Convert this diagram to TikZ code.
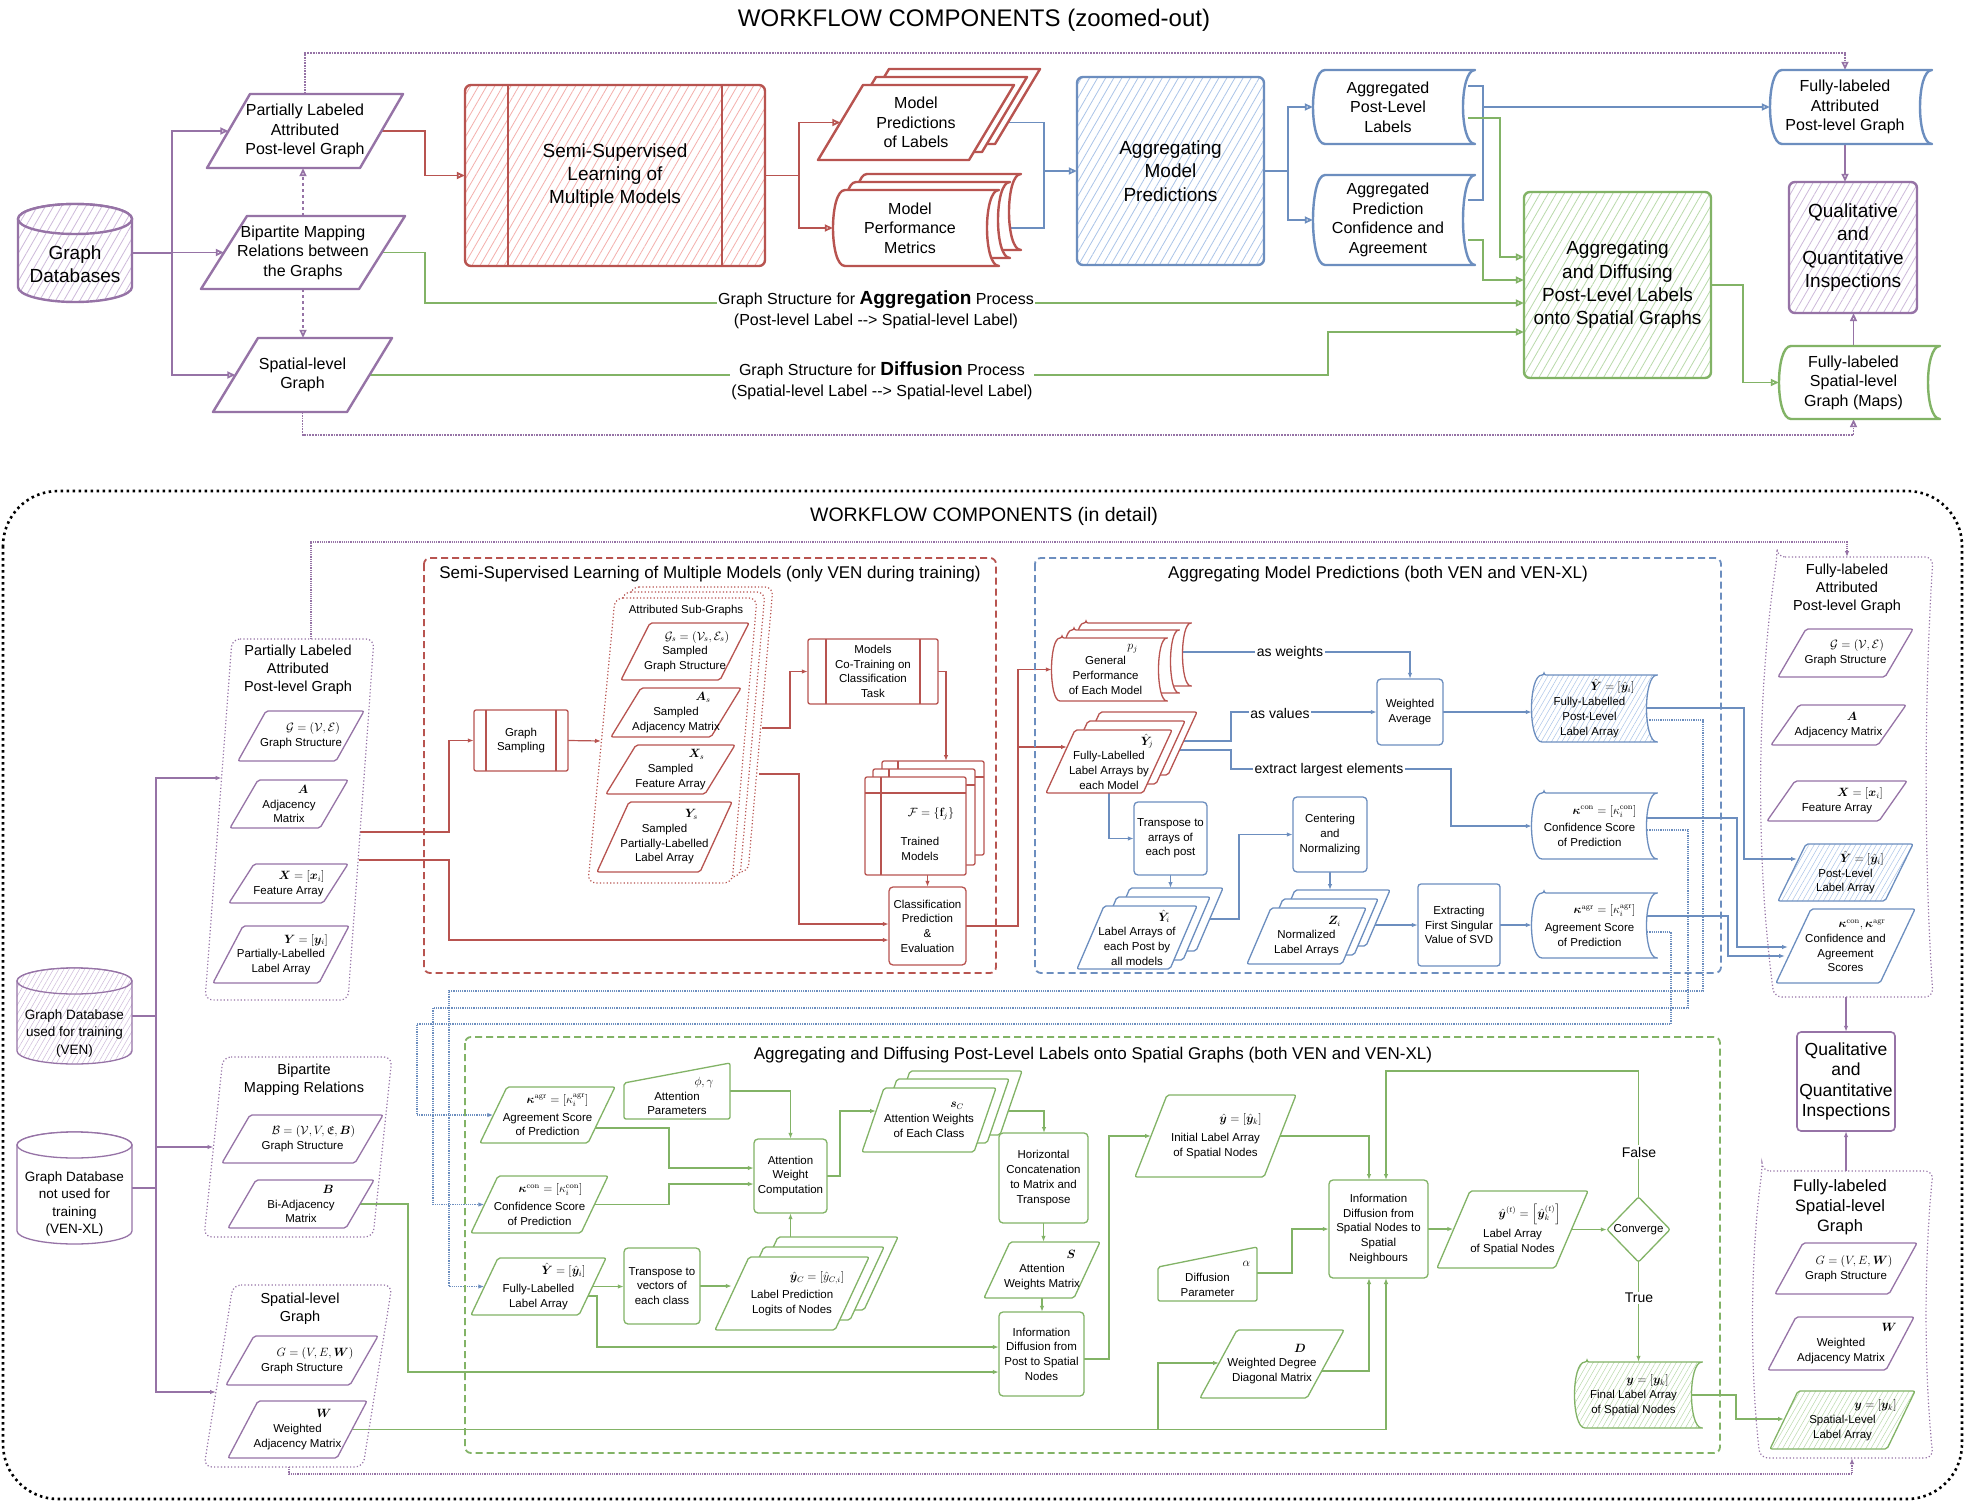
\documentclass[tikz,border=0pt]{standalone}
\usepackage[no-math]{fontspec}
\setmainfont{Liberation Sans}
\usepackage{amsmath,amssymb,bm}
\usetikzlibrary{arrows.meta,patterns.meta,calc}
\definecolor{cP}{RGB}{150,115,166}
\definecolor{cR}{RGB}{184,84,80}
\definecolor{cB}{RGB}{108,142,191}
\definecolor{cG}{RGB}{130,179,102}
\definecolor{hPc}{RGB}{205,185,218}
\definecolor{hRc}{RGB}{244,175,172}
\definecolor{hBc}{RGB}{170,196,232}
\definecolor{hGc}{RGB}{185,218,170}
\pgfdeclarelayer{back}\pgfdeclarelayer{bg}\pgfsetlayers{back,bg,main}
\newcommand\fD{\fontsize{11.5}{14.7}\selectfont}
\newcommand\fT{\fontsize{16}{19.5}\selectfont}
\newcommand\fTL{\fontsize{19}{23.3}\selectfont}
\newcommand\fG{\fontsize{17}{20}\selectfont}
\newcommand\fC{\fontsize{14.5}{17.8}\selectfont}
\tikzset{
 txt/.style={inner sep=0pt,align=center,font=\fD},
 arr/.style={-{Latex[length=6pt,width=4.5pt]}},
 tarr/.style={-{Triangle[open,length=8pt,width=7pt]}},
 tP/.style={draw=cP,line width=2.4pt,line join=round,fill=white},
 tR/.style={draw=cR,line width=2.4pt,line join=round,fill=white},
 tB/.style={draw=cB,line width=2.4pt,line join=round,fill=white},
 tG/.style={draw=cG,line width=2.4pt,line join=round,fill=white},
 hatP/.style={preaction={fill=white},pattern={Lines[angle=60,distance=7pt,line width=0.8pt]},pattern color=hPc},
 hatR/.style={preaction={fill=white},pattern={Lines[angle=60,distance=7pt,line width=0.8pt]},pattern color=hRc},
 hatB/.style={preaction={fill=white},pattern={Lines[angle=60,distance=7pt,line width=0.8pt]},pattern color=hBc},
 hatG/.style={preaction={fill=white},pattern={Lines[angle=60,distance=7pt,line width=0.8pt]},pattern color=hGc},
 hatPs/.style={preaction={fill=white},pattern={Lines[angle=60,distance=4.5pt,line width=0.5pt]},pattern color=hPc},
 hatBs/.style={preaction={fill=white},pattern={Lines[angle=60,distance=4.5pt,line width=0.5pt]},pattern color=hBc},
 hatGs/.style={preaction={fill=white},pattern={Lines[angle=60,distance=4.5pt,line width=0.5pt]},pattern color=hGc},
 dP/.style={draw=cP,line width=1.3pt,rounded corners=2pt,fill=white},
 dR/.style={draw=cR,line width=1.3pt,rounded corners=2pt,fill=white},
 dB/.style={draw=cB,line width=1.3pt,rounded corners=2pt,fill=white},
 dG/.style={draw=cG,line width=1.3pt,rounded corners=2pt,fill=white},
 grp/.style={line width=1.2pt,dash pattern=on 1.2pt off 2.2pt,rounded corners=8pt},
 bigbox/.style={line width=1.8pt,dash pattern=on 7pt off 4pt,rounded corners=6pt},
 cl/.style={line width=1.2pt},
 ctop/.style={line width=1.7pt},
 lbl/.style={fill=white,inner sep=1.5pt,font=\fontsize{14}{16}\selectfont},
}
% parallelogram with node
\newcommand\mkpara[9][]{%
 \draw[#2] (#4,#7) -- ({#4+#8},#5) -- (#6,#5) -- ({#6-#8},#7) -- cycle;
 \node[txt,minimum width={#6-#4-#8},minimum height={#7-#5},#1] (#3) at ({(#4+#6)/2},{(#5+#7)/2}) {#9};}
\newcommand\shpara[6]{\draw[#1] (#2,#5) -- ({#2+#6},#3) -- (#4,#3) -- ({#4-#6},#5) -- cycle;}
\newcommand\shsd[6]{\draw[#1] ({#2+#6},#3) -- (#4,#3) .. controls ({#4-4*#6/3},#3) and ({#4-4*#6/3},#5) .. (#4,#5) -- ({#2+#6},#5) .. controls ({#2-#6/3},#5) and ({#2-#6/3},#3) .. ({#2+#6},#3) -- cycle;}
\newcommand\mksd[9][]{\shsd{#2}{#4}{#5}{#6}{#7}{#8}%
 \node[txt,minimum width={#6-#4-#8},minimum height={#7-#5},#1] (#3) at ({(#4+#6-#8)/2},{(#5+#7)/2}) {#9};}
\newcommand\mkrect[8][]{\draw[#2] (#4,#5) rectangle (#6,#7);
 \node[txt,minimum width={#6-#4},minimum height={#7-#5},#1] (#3) at ({(#4+#6)/2},{(#5+#7)/2}) {#8};}
\newcommand\mkproc[9][]{\draw[#2] (#4,#5) rectangle (#6,#7);
 \draw[#2] ({#4+#8},#5) -- ({#4+#8},#7) ({#6-#8},#5) -- ({#6-#8},#7);
 \node[txt,minimum width={#6-#4},minimum height={#7-#5},#1] (#3) at ({(#4+#6)/2},{(#5+#7)/2}) {#9};}
\newcommand\mkmi[9][]{\draw[#2] (#4,#5) -- (#7,#6) -- (#7,#8) -- (#4,#8) -- cycle;
 \node[txt,minimum width={#7-#4},minimum height={#8-(#5+#6)/2},#1] (#3) at ({(#4+#7)/2},{((#5+#6)/2+#8)/2}) {#9};}
\newcommand\shstore[7]{\draw[#1] (#2,#3) rectangle (#4,#5); \draw[#1] ({#2+#6},#3) -- ({#2+#6},#5) (#2,{#3+#7}) -- (#4,{#3+#7});}
\newcommand\mkcyl[7]{%
 \path[#1] (#3,{#4+#7}) -- (#3,{#6-#7}) arc[start angle=180,end angle=0,x radius={(#5-#3)/2},y radius=#7] -- (#5,{#4+#7}) arc[start angle=0,end angle=-180,x radius={(#5-#3)/2},y radius=#7] -- cycle;
 \path[#1] ({(#3+#5)/2},{#4+#7}) ellipse[x radius={(#5-#3)/2},y radius=#7];
 \node[inner sep=0pt,minimum width={#5-#3},minimum height={#6-#4}] (#2) at ({(#3+#5)/2},{(#4+#6)/2}) {};}
\begin{document}
\begin{tikzpicture}[x=1pt,y=-1pt]
\useasboundingbox (0,0) rectangle (1965,1503);
\begin{pgfonlayer}{back}
\fill[white] (0,0) rectangle (1965,1503);
\end{pgfonlayer}
%================ TOP =================
\node[font=\fontsize{24}{28}\selectfont] (title1) at (974,20) {WORKFLOW COMPONENTS (zoomed-out)};
\mkcyl{draw=cP,line width=2.4pt,hatP}{gdb}{18}{204}{132}{302}{15}
\node[txt,font=\fTL] (gdbt) at (75,264) {Graph\\Databases};
\mkpara[font=\fT]{tP}{plap}{207}{94}{403}{168}{43}{Partially Labeled\\Attributed\\Post-level Graph}
\mkpara[font=\fT]{tP}{bip}{201}{216}{405}{289}{46}{Bipartite Mapping\\Relations between\\the Graphs}
\mkpara[font=\fT]{tP}{spat}{213}{338}{392}{412}{45}{Spatial-level\\Graph}
\mkproc[font=\fTL]{tR,hatR,rounded corners=6pt}{ssl}{465}{85}{765}{266}{43}{Semi-Supervised\\Learning of\\Multiple Models}
\shpara{tR}{844}{69}{1040}{144}{45}
\shpara{tR}{831}{77}{1027}{152}{45}
\mkpara[font=\fT]{tR}{mp}{818}{85}{1014}{160}{45}{Model\\Predictions\\of Labels}
\shsd{tR}{855}{174}{1021}{250}{12}
\shsd{tR}{844}{182}{1010}{258}{12}
\mksd[font=\fT]{tR}{mpm}{833}{190}{999}{266}{12}{Model\\Performance\\Metrics}
\mkrect[font=\fTL]{tB,hatB,rounded corners=6pt}{amp}{1077}{77}{1264}{265}{Aggregating\\Model\\Predictions}
\mksd[font=\fT]{tB}{apl}{1313}{70}{1475}{144}{12}{Aggregated\\Post-Level\\Labels}
\mksd[font=\fT]{tB}{apc}{1313}{175}{1475}{265}{12}{Aggregated\\Prediction\\Confidence and\\Agreement}
\mkrect[font=\fTL]{tG,hatG,rounded corners=6pt}{adp}{1524}{192}{1711}{378}{Aggregating\\and Diffusing\\Post-Level Labels\\onto Spatial Graphs}
\mksd[font=\fT]{tB}{flap}{1770}{70}{1932}{144}{12}{Fully-labeled\\Attributed\\Post-level Graph}
\mkrect[font=\fTL]{tP,hatP,rounded corners=6pt}{qqi}{1789}{182}{1917}{313}{Qualitative\\and\\Quantitative\\Inspections}
\mksd[font=\fT]{tG}{flsg}{1779}{346}{1940}{419}{12}{Fully-labeled\\Spatial-level\\Graph (Maps)}
\node[fill=white,inner sep=1.5pt,align=center,font=\fontsize{16}{21}\selectfont] (lagg) at (876,310) {Graph Structure for {\bfseries\fontsize{19}{21}\selectfont Aggregation} Process\\(Post-level Label -\kern0pt-\kern0pt> Spatial-level Label)};
\node[fill=white,inner sep=1.5pt,align=center,font=\fontsize{16}{21}\selectfont] (ldif) at (882,381) {Graph Structure for {\bfseries\fontsize{19}{21}\selectfont Diffusion} Process\\(Spatial-level Label -\kern0pt-\kern0pt> Spatial-level Label)};
%================ BOTTOM =================
\draw[black,line width=2.6pt,dash pattern=on 2.5pt off 3.5pt,rounded corners=55pt] (3,491) rectangle (1962,1499);
\node[font=\fontsize{19.5}{22}\selectfont] (title2) at (984,516) {WORKFLOW COMPONENTS (in detail)};
\draw[cR,bigbox] (424,558) rectangle (996,973);
\node[font=\fG] (tred) at (710,574) {Semi-Supervised Learning of Multiple Models (only VEN during training)};
\draw[cB,bigbox] (1035,558) rectangle (1721,973);
\node[font=\fG] (tblue) at (1378,574) {Aggregating Model Predictions (both VEN and VEN-XL)};
\draw[cG,bigbox] (465,1037) rectangle (1720,1453);
\node[font=\fG] (tgreen) at (1093,1055) {Aggregating and Diffusing Post-Level Labels onto Spatial Graphs (both VEN and VEN-XL)};
% left column
\mkcyl{draw=cP,line width=1.3pt,hatPs}{cv}{17}{968}{132}{1064}{13}
\node[txt,font=\fontsize{13.5}{17.5}\selectfont] (cvt) at (74.5,1033) {Graph Database\\used for training\\(VEN)};
\mkcyl{draw=cP,line width=1.3pt,fill=white}{cx}{17}{1132}{132}{1244}{13}
\node[txt,font=\fontsize{13.5}{17.5}\selectfont] (cxt) at (74.5,1204) {Graph Database\\not used for\\training\\(VEN-XL)};
\draw[cP,grp] (232,639) -- (374,639) -- (348,1000) -- (205,1000) -- cycle;
\node[txt,font=\fC] (g1t) at (298,670) {Partially Labeled\\Attributed\\Post-level Graph};
\mkpara{dP}{g1a}{238}{711}{364}{761}{28}{\hspace*{24pt}$\mathcal{G}=(\mathcal{V},\mathcal{E})$\\Graph Structure}
\mkpara{dP}{g1b}{230}{780}{348}{828}{28}{\hspace*{28pt}$\bm{A}$\\Adjacency\\Matrix}
\mkpara{dP}{g1c}{229}{864}{348}{903}{25}{\hspace*{26pt}$\bm{X}=[\bm{x}_i]$\\Feature Array}
\mkpara{dP}{g1d}{213}{926}{349}{983}{30}{\hspace*{50pt}$\bm{Y}=[\bm{y}_i]$\\Partially-Labelled\\Label Array}
\draw[cP,grp] (223,1057) -- (392,1057) -- (373,1237) -- (204,1237) -- cycle;
\node[txt,font=\fC] (g2t) at (304,1080) {Bipartite\\Mapping Relations};
\mkpara{dP}{g2a}{222}{1115}{383}{1163}{28}{\hspace*{22pt}$\mathcal{B}=(\mathcal{V},V,\mathfrak{E},\bm{B})$\\Graph Structure}
\mkpara{dP}{g2b}{228}{1180}{374}{1228}{28}{\hspace*{54pt}$\bm{B}$\\Bi-Adjacency\\Matrix}
\draw[cP,grp] (233,1285) -- (392,1285) -- (363,1467) -- (204,1467) -- cycle;
\node[txt,font=\fC] (g3t) at (300,1309) {Spatial-level\\Graph};
\mkpara{dP}{g3a}{226}{1336}{378}{1385}{28}{\hspace*{26pt}$G=(V,E,\bm{W})$\\Graph Structure}
\mkpara{dP}{g3b}{228}{1401}{367}{1458}{30}{\hspace*{53pt}$\bm{W}$\\Weighted\\Adjacency Matrix}
% red box
\mkproc{dR}{gs}{474}{710}{568}{771}{12}{Graph\\Sampling}
\draw[cR,grp,fill=white] (631,587) -- (773,587) -- (748,872) -- (604,872) -- cycle;
\draw[cR,grp,fill=white] (623,592) -- (765,592) -- (740,877) -- (596,877) -- cycle;
\draw[cR,grp,fill=white] (615,598) -- (757,598) -- (732,883) -- (588,883) -- cycle;
\node[txt] (sgt) at (686,611) {Attributed Sub-Graphs};
\mkpara{dR}{sga}{621}{623}{749}{680}{29}{\hspace*{24pt}$\mathcal{G}_s=(\mathcal{V}_s,\mathcal{E}_s)$\\Sampled\\Graph Structure}
\mkpara{dR}{sgb}{611}{688}{741}{737}{30}{\hspace*{54pt}$\bm{A}_s$\\Sampled\\Adjacency Matrix}
\mkpara{dR}{sgc}{606}{745}{735}{794}{30}{\hspace*{52pt}$\bm{X}_s$\\Sampled\\Feature Array}
\mkpara{dR}{sgd}{597}{802}{732}{872}{32}{\hspace*{54pt}$\bm{Y}_s$\\Sampled\\Partially-Labelled\\Label Array}
\mkproc{dR}{mct}{808}{639}{938}{704}{18}{Models\\Co-Training on\\Classification\\Task}
\shstore{dR}{882}{761}{984}{855}{16}{16}
\shstore{dR}{873}{769}{975}{865}{16}{16}
\shstore{dR}{865}{777}{966}{875}{16}{16}
\node[inner sep=0pt,minimum width=101,minimum height=98] (tm) at (915.5,826) {};
\node[txt] (tmt) at (920,834) {\hspace*{22pt}$\mathcal{F}=\{\mathbf{f}_j\}$\\[14pt]Trained\\Models};
\mkrect{dR,rounded corners=4pt}{cpe}{889}{887}{966}{965}{Classification\\Prediction\\\&\\Evaluation}
% blue box
\shsd{dR}{1076}{623}{1193}{686}{10}
\shsd{dR}{1064}{630}{1181}{693}{10}
\mksd{dR}{gp}{1052}{638}{1169}{701}{10}{\hspace*{54pt}$p_j$\\General\\Performance\\of Each Model}
\shpara{dR}{1071}{712}{1197}{775}{29}
\shpara{dR}{1059}{721}{1185}{784}{29}
\mkpara{dR}{flla}{1046}{730}{1172}{793}{29}{\hspace*{76pt}$\hat{\bm{Y}}_j$\\Fully-Labelled\\Label Arrays by\\each Model}
\mkrect{dB,rounded corners=4pt}{wa}{1377}{679}{1443}{745}{Weighted\\Average}
\mksd{dB,hatBs}{yhat}{1532}{675}{1659}{742}{12}{\hspace*{46pt}$\hat{\bm{Y}}=[\hat{\bm{y}}_i]$\\Fully-Labelled\\Post-Level\\Label Array}
\mksd{dB}{kcon}{1532}{793}{1659}{859}{12}{\hspace*{30pt}$\bm{\kappa}^{\mathrm{con}}=\left[\kappa_i^{\mathrm{con}}\right]$\\[3pt]Confidence Score\\of Prediction}
\mksd{dB}{kagr}{1532}{893}{1659}{958}{12}{\hspace*{30pt}$\bm{\kappa}^{\mathrm{agr}}=\left[\kappa_i^{\mathrm{agr}}\right]$\\[3pt]Agreement Score\\of Prediction}
\mkrect{dB,rounded corners=4pt}{tr1}{1134}{802}{1207}{875}{Transpose to\\arrays of\\each post}
\shpara{dB}{1103}{888}{1223}{951}{27}
\shpara{dB}{1090}{897}{1210}{960}{27}
\mkpara{dB}{lap}{1077}{906}{1197}{969}{27}{\hspace*{54pt}$\hat{\bm{Y}}_i$\\Label Arrays of\\each Post by\\all models}
\mkrect{dB,rounded corners=4pt}{cn}{1293}{797}{1367}{872}{Centering\\and\\Normalizing}
\shpara{dB}{1271}{890}{1390}{946}{24}
\shpara{dB}{1259}{899}{1378}{955}{24}
\mkpara{dB}{zz}{1247}{908}{1366}{964}{24}{\hspace*{56pt}$\bm{Z}_i$\\Normalized\\Label Arrays}
\mkrect{dB,rounded corners=3pt}{svd}{1418}{884}{1500}{966}{Extracting\\First Singular\\Value of SVD}
\node[lbl] (lw) at (1290,653) {as weights};
\node[lbl] (lv) at (1280,713) {as values};
\node[lbl] (le) at (1329,770) {extract largest elements};
% right column
\draw[cP,grp] (1777,557) -- (1933,557) .. controls (1924,700) and (1924,860) .. (1933,997) -- (1774,997) .. controls (1756,860) and (1756,700) .. (1777,557) -- cycle;
\node[txt,font=\fC] (g5t) at (1847,589) {Fully-labeled\\Attributed\\Post-level Graph};
\mkpara{dP}{g5a}{1778}{629}{1913}{677}{28}{\hspace*{23pt}$\mathcal{G}=(\mathcal{V},\mathcal{E})$\\Graph Structure}
\mkpara{dP}{g5b}{1771}{705}{1906}{745}{28}{\hspace*{27pt}$\bm{A}$\\Adjacency Matrix}
\mkpara{dP}{g5c}{1767}{781}{1907}{821}{28}{\hspace*{46pt}$\bm{X}=[\bm{x}_i]$\\Feature Array}
\mkpara{dB,hatBs}{g5d}{1778}{844}{1913}{901}{28}{\hspace*{33pt}$\hat{\bm{Y}}=[\hat{\bm{y}}_i]$\\Post-Level\\Label Array}
\mkpara{dB}{g5e}{1776}{909}{1915}{983}{35}{\hspace*{33pt}$\bm{\kappa}^{\mathrm{con}},\bm{\kappa}^{\mathrm{agr}}$\\Confidence and\\Agreement\\Scores}
\mkrect[font=\fontsize{17.5}{20.2}\selectfont]{dP,rounded corners=4pt,line width=1.6pt}{qqi2}{1797}{1032}{1895}{1131}{Qualitative\\and\\Quantitative\\Inspections}
\draw[cP,grp] (1762,1171) -- (1933,1171) .. controls (1924,1260) and (1924,1370) .. (1933,1458) -- (1760,1458) .. controls (1750,1370) and (1750,1260) .. (1762,1171) -- cycle;
\node[txt,font=\fontsize{16.5}{20}\selectfont] (g7t) at (1840,1207) {Fully-labeled\\Spatial-level\\Graph};
\mkpara{dP}{g7a}{1775}{1243}{1917}{1294}{28}{\hspace*{16pt}$G=(V,E,\bm{W})$\\Graph Structure}
\mkpara{dP}{g7b}{1768}{1317}{1914}{1370}{28}{\hspace*{96pt}$\bm{W}$\\Weighted\\Adjacency Matrix}
\mkpara{dG,hatGs}{g7c}{1770}{1391}{1915}{1449}{28}{\hspace*{66pt}$\bm{y}=[\bm{y}_k]$\\Spatial-Level\\Label Array}
% green box
\mkpara{dG}{ga}{480}{1087}{615}{1143}{27}{\hspace*{20pt}$\bm{\kappa}^{\mathrm{agr}}=\left[\kappa_i^{\mathrm{agr}}\right]$\\[3pt]Agreement Score\\of Prediction}
\mkpara{dG}{gc}{471}{1176}{608}{1233}{27}{\hspace*{22pt}$\bm{\kappa}^{\mathrm{con}}=\left[\kappa_i^{\mathrm{con}}\right]$\\[3pt]Confidence Score\\of Prediction}
\mkpara{dG}{gy}{471}{1258}{606}{1315}{27}{\hspace*{50pt}$\hat{\bm{Y}}=[\hat{\bm{y}}_i]$\\[3pt]Fully-Labelled\\Label Array}
\mkmi{dG}{ap}{624}{1083}{1063}{730}{1119}{\hspace*{54pt}$\phi,\gamma$\\Attention\\Parameters}
\mkrect{dG,rounded corners=4pt}{awc}{754}{1139}{827}{1213}{Attention\\Weight\\Computation}
\mkrect{dG,rounded corners=4pt}{tr2}{624}{1248}{700}{1324}{Transpose to\\vectors of\\each class}
\shpara{dG}{744}{1237}{898}{1310}{34}
\shpara{dG}{730}{1247}{884}{1320}{34}
\mkpara{dG}{yc}{715}{1257}{869}{1330}{34}{\hspace*{50pt}$\hat{\bm{y}}_C=[\hat{y}_{C,i}]$\\[3pt]Label Prediction\\Logits of Nodes}
\shpara{dG}{888}{1071}{1022}{1135}{22}
\shpara{dG}{875}{1079}{1009}{1143}{22}
\mkpara{dG}{sc}{862}{1088}{996}{1152}{22}{\hspace*{56pt}$\bm{s}_C$\\Attention Weights\\of Each Class}
\mkrect{dG,rounded corners=4pt}{hct}{999}{1133}{1088}{1223}{Horizontal\\Concatenation\\to Matrix and\\Transpose}
\mkpara{dG}{ss}{984}{1242}{1100}{1298}{26}{\hspace*{58pt}$\bm{S}$\\Attention\\Weights Matrix}
\mkrect{dG,rounded corners=4pt}{idp}{999}{1312}{1084}{1396}{Information\\Diffusion from\\Post to Spatial\\Nodes}
\mkpara{dG}{init}{1135}{1095}{1296}{1177}{32}{\hspace*{50pt}$\hat{\bm{y}}=\left[\hat{\bm{y}}_k\right]$\\[4pt]Initial Label Array\\of Spatial Nodes}
\mkmi{dG}{dp}{1158}{1267}{1247}{1257}{1301}{\hspace*{78pt}$\alpha$\\Diffusion\\Parameter}
\mkpara{dG}{dd}{1200}{1330}{1344}{1398}{37}{\hspace*{56pt}$\bm{D}$\\Weighted Degree\\Diagonal Matrix}
\mkrect{dG,rounded corners=4pt}{ids}{1329}{1180}{1428}{1278}{Information\\Diffusion from\\Spatial Nodes to\\Spatial\\Neighbours}
\mkpara{dG}{yt}{1437}{1191}{1588}{1268}{33}{\hspace*{34pt}$\hat{\bm{y}}^{(t)}=\left[\hat{\bm{y}}_k^{(t)}\right]$\\[4pt]Label Array\\of Spatial Nodes}
\draw[dG] (1607,1229.5) -- (1638.5,1197) -- (1670,1229.5) -- (1638.5,1262) -- cycle;
\node[txt,minimum width=63,minimum height=65] (conv) at (1638.5,1229.5) {Converge};
\mksd{dG,hatGs}{fla}{1575}{1362}{1704}{1428}{12}{\hspace*{28pt}$\bm{y}=[\bm{y}_k]$\\Final Label Array\\of Spatial Nodes}
\node[lbl] (lfalse) at (1639,1152) {False};
\node[lbl] (ltrue) at (1639,1298) {True};
%================ CONNECTORS =================
\begin{pgfonlayer}{bg}
% top
\draw[cP,ctop,tarr] (gdb.east) -- (172,253) |- (plap.west);
\draw[cP,ctop,tarr] (172,253) |- (bip.west);
\draw[cP,ctop,tarr] (172,253) |- (spat.west);
\draw[cP,ctop,dashed,tarr] (bip.north) -- (bip.north |- plap.south);
\draw[cP,ctop,dashed,tarr] (bip.south) -- (bip.south |- spat.north);
\draw[cP,ctop,densely dotted,tarr] (plap.north) -- (305,53) -| (flap.north);
\draw[cP,ctop,densely dotted,tarr] (spat.south) -- (302.5,435) -| (flsg.south);
\draw[cR,ctop,tarr] (plap.east) -- (425,131) |- (ssl.west);
\draw[cR,ctop,tarr] (ssl.east) -- (799,175.5) |- (mp.west);
\draw[cR,ctop,tarr] (799,175.5) |- (mpm.west);
\draw[cB,ctop,tarr] (mp.east) -- (1044,122.5) |- (amp.west);
\draw[cB,ctop] (mpm.east) -| (1044,171);
\draw[cB,ctop,tarr] (amp.east) -- (1288,171) |- (apl.west);
\draw[cB,ctop,tarr] (1288,171) |- (apc.west);
\draw[cB,ctop] (1468,86) -- (1483,86) -- (1483,200) -- (1468,200);
\draw[cB,ctop,tarr] (1483,107) -- (flap.west);
\draw[cG,ctop,tarr] (1468,118) -- (1500,118) |- (adp.west |- 0,257);
\draw[cG,ctop,tarr] (1468,240) -- (1483,240) |- (adp.west |- 0,280);
\draw[cG,ctop,tarr] (bip.east) -- (425,252.5) |- (adp.west |- 0,303);
\draw[cG,ctop,tarr] (spat.east) -- (1328,375) |- (adp.west |- 0,332);
\draw[cG,ctop,tarr] (adp.east) -- (1743,285) |- (flsg.west);
\draw[cP,ctop,tarr] (flap.south) -- (flap.south |- qqi.north);
\draw[cP,ctop,tarr] (flsg.north) -- (flsg.north |- qqi.south);
% left column
\draw[cP,cl] (cv.east) -- (156,1016);
\draw[cP,cl] (cx.east) -- (156,1188);
\draw[cP,cl,arr] (156,1188) -- (156,778) -- (221.6,778);
\draw[cP,cl,arr] (156,1016) |- (213.5,1147);
\draw[cP,cl,arr] (156,1188) |- (216,1392);
\draw[cP,cl,densely dotted,arr] (311,639) -- (311,542) -| (1847,557);
\draw[cP,cl,densely dotted,arr] (289,1467) -- (289,1474) -| (1852,1458);
% red
\draw[cR,cl,arr] (360,832) -- (449,832) |- (gs.west);
\draw[cR,cl,arr] (359,860) -- (449,860) |- (cpe.west |- 0,940);
\draw[cR,cl,arr] (gs.east) -- (601,741);
\draw[cR,cl,arr] (762,728) -- (790,728) |- (mct.west);
\draw[cR,cl,arr] (759,774) -- (799,774) |- (cpe.west |- 0,924);
\draw[cR,cl,arr] (mct.east) -- (946,671.5) -- (946,761);
\draw[cR,cl,arr] (cpe.north |- tm.south) -- (cpe.north);
\draw[cR,cl,arr] (cpe.east) -- (1018,926) |- (gp.west);
\draw[cR,cl,arr] (1018,926) |- (1067,747);
% blue
\draw[cB,cl,arr] (gp.east |- 0,652) -- (1410,652) -- (wa.north);
\draw[cB,cl,arr] (flla.east |- 0,741) -- (1231,741) |- (wa.west);
\draw[cB,cl,arr] (flla.east |- 0,750) -- (1231,750) -- (1231,769) -- (1451,769) |- (kcon.west);
\draw[cB,cl,arr] (wa.east) -- (wa.east -| yhat.west);
\draw[cB,cl,arr] (flla.south) |- (tr1.west);
\draw[cB,cl,arr] (tr1.south) -- (tr1.south |- 0,888);
\draw[cB,cl,arr] (lap.east |- 0,919) -- (1239,919) |- (cn.west);
\draw[cB,cl,arr] (cn.south) -- (cn.south |- 0,890);
\draw[cB,cl,arr] (svd.west -| zz.east) -- (svd.west);
\draw[cB,cl,arr] (svd.east) -- (svd.east -| kagr.west);
\draw[cB,cl,arr] (yhat.east |- 0,708) -- (1744,708) |- (1797,859);
\draw[cB,cl,arr] (kcon.east |- 0,818) -- (1737,818) |- (1788,947);
\draw[cB,cl,arr] (kagr.east |- 0,916) -- (1728,916) |- (1785,956);
\draw[cB,cl,densely dotted,arr] (yhat.east |- 0,720) -- (1703,720) -- (1703,991) -- (449,991) |- (gy.west);
\draw[cB,cl,densely dotted,arr] (kcon.east |- 0,830) -- (1688,830) -- (1688,1008) -- (433,1008) |- (gc.west);
\draw[cB,cl,densely dotted,arr] (kagr.east |- 0,932) -- (1671,932) -- (1671,1024) -- (417,1024) |- (ga.west);
% right column
\draw[cP,cl,arr] (1846,997) -- (qqi2.north);
\draw[cP,cl,arr] (1846,1171) -- (qqi2.south);
% green
\draw[cG,cl,arr] (g2b.east) -- (408,1204) |- (idp.west |- 0,1372);
\draw[cG,cl,arr] (g3b.east) -- (1386,1429.5) -- (1386,1278);
\draw[cG,cl,arr] (1158,1429.5) |- (1219,1363);
\draw[cG,cl,arr] (595,1128) -- (669,1128) |- (awc.west |- 0,1168);
\draw[cG,cl,arr] (gc.east) -- (669,1204.5) |- (awc.west |- 0,1184);
\draw[cG,cl,arr] (730,1091) -| (awc.north);
\draw[cG,cl,arr] (awc.south |- yc.north) -- (awc.south);
\draw[cG,cl,arr] (gy.east) -- (gy.east -| tr2.west);
\draw[cG,cl,arr] (tr2.east) -- (tr2.east -| yc.west);
\draw[cG,cl,arr] (588,1296) -- (597,1296) |- (idp.west |- 0,1347);
\draw[cG,cl,arr] (awc.east) -- (840,1176) |- (876,1111);
\draw[cG,cl,arr] (990,1111) -- (1044,1111) -- (1044,1133);
\draw[cG,cl,arr] (hct.south) -- (hct.south |- ss.north);
\draw[cG,cl,arr] (ss.south) -- (ss.south |- idp.north);
\draw[cG,cl,arr] (idp.east |- 0,1359) -- (1109,1359) |- (1151,1136);
\draw[cG,cl,arr] (init.east) -- (1369,1136) -- (1369,1180);
\draw[cG,cl,arr] (conv.north) -- (1638.5,1071) -- (1386,1071) -- (1386,1180);
\draw[cG,cl,arr] (1257,1273) -- (1292,1273) |- (ids.west);
\draw[cG,cl,arr] (1322,1371) -- (1369,1371) -- (1369,1278);
\draw[cG,cl,arr] (ids.east) -- (ids.east -| yt.west);
\draw[cG,cl,arr] (yt.east) -- (conv.west);
\draw[cG,cl,arr] (conv.south) -- (conv.south |- fla.north);
\draw[cG,cl,arr] (fla.east) -- (1736,1395) |- (1784,1419);
\end{pgfonlayer}
\end{tikzpicture}
\end{document}
